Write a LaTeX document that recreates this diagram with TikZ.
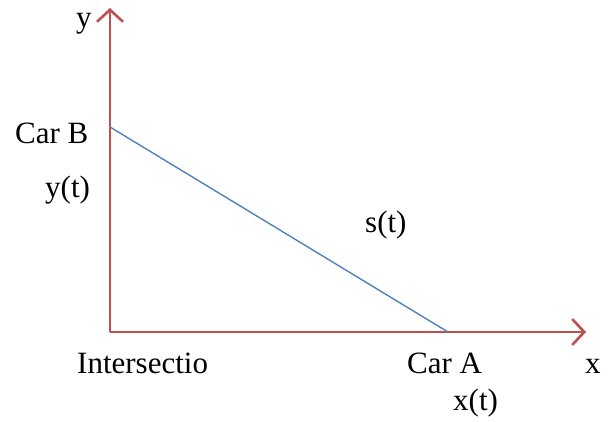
\documentclass[tikz,border=0pt]{standalone}
\usepackage{fontspec}
\setmainfont{Liberation Serif}
\usetikzlibrary{arrows.meta}
\definecolor{axisred}{RGB}{192,80,77}
\definecolor{lineblue}{RGB}{79,129,189}
\begin{document}
\begin{tikzpicture}[x=1bp,y=1bp,
  axis/.style={draw=axisred,line width=2.6bp,-{Straight Barb[length=12bp,width=26bp,line width=2.6bp]}},
  seg/.style={draw=lineblue,line width=1.4bp},
  lbl/.style={anchor=base west,inner sep=0pt,font=\fontsize{31bp}{36bp}\selectfont}]
\useasboundingbox (0,0) rectangle (612,421);
\coordinate (O) at (110,89);
\coordinate (Yend) at (110,413);
\coordinate (Xend) at (586,89);
\coordinate (B) at (110,294);
\coordinate (A) at (448,89);
\draw[axis] (O) -- (Yend);
\draw[axis] (O) -- (Xend);
\draw[seg] (B) -- (A);
\node[lbl] (ly) at (76,393) {y};
\node[lbl] (lcarb) at (15,278) {Car B};
\node[lbl] (lyt) at (45,224) {y(t)};
\node[lbl] (lst) at (365,189) {s(t)};
\node[lbl] (linter) at (77,48) {Intersectio};
\node[lbl] (lcara) at (407,48) {Car A};
\node[lbl] (lx) at (585,48) {x};
\node[lbl] (lxt) at (453,11) {x(t)};
\end{tikzpicture}
\end{document}
